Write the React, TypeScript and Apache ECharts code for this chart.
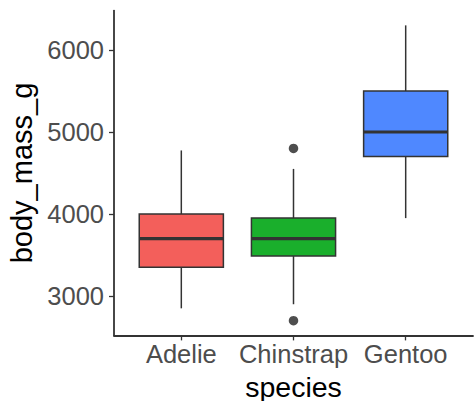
import React, { useEffect, useRef } from "react";
import * as echarts from "echarts";

const species = ["Adelie", "Chinstrap", "Gentoo"];
const whiskerLow = [2850, 2900, 3950];
const q1 = [3350, 3487.5, 4700];
const median = [3700, 3700, 5000];
const q3 = [4000, 3950, 5500];
const whiskerHigh = [4775, 4550, 6300];
const fillColors = ["#F35F5B", "#1AAF2C", "#4F88FF"];
const outlierSpecies = ["Chinstrap", "Chinstrap"];
const outlierValues = [2700, 4800];
const yTicks = [3000, 4000, 5000, 6000];

export default function App() {
  const ref = useRef<HTMLDivElement>(null);
  useEffect(() => {
    if (!ref.current) return;
    const chart = echarts.init(ref.current, undefined, { renderer: "svg" });
    const boxData = species.map((s, i) => [i + 1, whiskerLow[i], q1[i], median[i], q3[i], whiskerHigh[i]]);
    const outlierData = outlierSpecies.map((s, i) => [species.indexOf(s) + 1, outlierValues[i]]);
    const font = "'Liberation Sans', Arial, Helvetica, sans-serif";
    chart.setOption({
      animation: false,
      backgroundColor: "#ffffff",
      textStyle: { fontFamily: font },
      grid: { left: 114, right: 2, top: 10.6, bottom: 65.6, containLabel: false, outerBoundsMode: "none" },
      xAxis: {
        type: "value",
        min: 0.4,
        max: 3.6,
        splitLine: { show: false },
        axisLine: { show: true, lineStyle: { color: "#333333", width: 1.8 } },
        axisTick: { show: true, customValues: [1, 2, 3], length: 5, lineStyle: { color: "#333333", width: 1.3 } },
        axisLabel: {
          customValues: [1, 2, 3],
          formatter: (v: number) => species[Math.round(v) - 1] ?? "",
          color: "#4D4D4D",
          fontSize: 25.5,
          fontFamily: font,
          margin: 6,
        },
        name: "species",
        nameLocation: "middle",
        nameGap: 30,
        nameTextStyle: { color: "#000000", fontSize: 28.5, fontFamily: font, lineHeight: 26 },
      },
      yAxis: {
        type: "value",
        min: 2520,
        max: 6480,
        splitLine: { show: false },
        axisLine: { show: true, lineStyle: { color: "#333333", width: 1.8 } },
        axisTick: { show: true, customValues: yTicks, length: 5, lineStyle: { color: "#333333", width: 1.3 } },
        axisLabel: {
          customValues: yTicks,
          formatter: (v: number) => String(v),
          color: "#4D4D4D",
          fontSize: 25.5,
          fontFamily: font,
          margin: 10,
        },
        name: "body_mass_g",
        nameLocation: "middle",
        nameRotate: 90,
        nameGap: 71,
        nameTextStyle: { color: "#000000", fontSize: 29, fontFamily: font },
      },
      series: [
        {
          type: "custom",
          data: boxData,
          encode: { x: 0, y: [1, 2, 3, 4, 5] },
          renderItem: (params: any, api: any) => {
            const x = api.value(0);
            const lo = api.coord([x, api.value(1)]);
            const b1 = api.coord([x, api.value(2)]);
            const md = api.coord([x, api.value(3)]);
            const b3 = api.coord([x, api.value(4)]);
            const hi = api.coord([x, api.value(5)]);
            const half = api.size([0.75, 0])[0] / 2;
            const cx = lo[0];
            const stroke = "#333333";
            return {
              type: "group",
              children: [
                { type: "line", shape: { x1: cx, y1: hi[1], x2: cx, y2: b3[1] }, style: { stroke, lineWidth: 1.5 } },
                { type: "line", shape: { x1: cx, y1: b1[1], x2: cx, y2: lo[1] }, style: { stroke, lineWidth: 1.5 } },
                {
                  type: "rect",
                  shape: { x: cx - half, y: b3[1], width: half * 2, height: b1[1] - b3[1] },
                  style: { fill: fillColors[params.dataIndex], stroke, lineWidth: 1.5 },
                },
                { type: "line", shape: { x1: cx - half, y1: md[1], x2: cx + half, y2: md[1] }, style: { stroke, lineWidth: 3.2 } },
              ],
            };
          },
        },
        {
          type: "scatter",
          data: outlierData,
          symbol: "circle",
          symbolSize: 9.5,
          itemStyle: { color: "#222222" },
        },
      ],
    });
    return () => chart.dispose();
  }, []);
  return <div ref={ref} style={{ position: "fixed", left: 0, top: 0, width: 475, height: 401 }} />;
}
